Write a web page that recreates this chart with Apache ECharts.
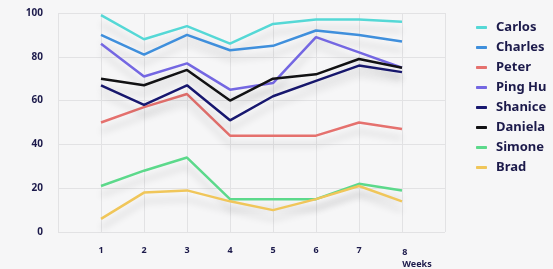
<!DOCTYPE html>
<html>
<head>
<meta charset="utf-8">
<script src="https://cdn.jsdelivr.net/npm/echarts@6/dist/echarts.min.js"></script>
<style>
  html, body { margin: 0; padding: 0; background: #f6f6f7; }
  #chart { width: 553px; height: 269px; }
</style>
</head>
<body>
<div id="chart"></div>
<script>
const weeks = [1, 2, 3, 4, 5, 6, 7, 8];
const yTicks = [0, 20, 40, 60, 80, 100];

const carlos  = [99, 88, 94, 86, 95, 97, 97, 96];
const charles = [90, 81, 90, 83, 85, 92, 90, 87];
const peter   = [50, 57, 63, 44, 44, 44, 50, 47];
const pingHu  = [86, 71, 77, 65, 68, 89, 82, 75];
const shanice = [67, 58, 67, 51, 62, 69, 76, 73];
const daniela = [70, 67, 74, 60, 70, 72, 79, 75];
const simone  = [21, 28, 34, 15, 15, 15, 22, 19];
const brad    = [6, 18, 19, 14, 10, 15, 21, 14];

const people = [
    { name: 'Carlos',  values: carlos,  color: '#55d8d6' },
    { name: 'Charles', values: charles, color: '#3f8fdc' },
    { name: 'Peter',   values: peter,   color: '#e5716e' },
    { name: 'Ping Hu', values: pingHu,  color: '#7467e2' },
    { name: 'Shanice', values: shanice, color: '#181870' },
    { name: 'Daniela', values: daniela, color: '#121214' },
    { name: 'Simone',  values: simone,  color: '#5cd98b' },
    { name: 'Brad',    values: brad,    color: '#f0c65a' }
];

const navy = '#1c1a4b';

const chart = echarts.init(document.getElementById('chart'));
const option = {
    backgroundColor: '#f6f6f7',
    animation: false,
    grid: {
        left: 58,
        right: 108,
        top: 13,
        bottom: 37
    },
    legend: {
        orient: 'vertical',
        left: 471,
        top: 16,
        icon: 'roundRect',
        itemWidth: 11,
        itemHeight: 3,
        itemGap: 7,
        textStyle: {
            color: navy,
            fontSize: 13,
            fontWeight: 'bold',
            fontFamily: 'Noto Sans',
            padding: [0, 0, 0, 4]
        },
        data: people.map(p => p.name)
    },
    xAxis: {
        type: 'value',
        min: 0,
        max: weeks.length + 1,
        interval: 1,
        axisLine: { show: false },
        axisTick: { show: false },
        splitLine: { lineStyle: { color: '#e2e2e4', width: 1 } },
        axisLabel: {
            margin: 14,
            color: navy,
            fontSize: 9,
            fontWeight: 'bold',
            fontFamily: 'Noto Sans',
            formatter: v => {
                // last week carries the axis name underneath
                if (v === weeks[weeks.length - 1]) return '{n|' + v + '}\n{w|Weeks}';
                return weeks.indexOf(v) >= 0 ? String(v) : '';
            },
            rich: {
                n: { color: navy, fontSize: 9, fontWeight: 'bold', fontFamily: 'Noto Sans', align: 'left', padding: [0, 0, 0, 30], lineHeight: 12 },
                w: { color: navy, fontSize: 9, fontWeight: 'bold', fontFamily: 'Noto Sans', align: 'left', padding: [0, 0, 0, 30], lineHeight: 12 }
            }
        }
    },
    yAxis: {
        type: 'value',
        min: yTicks[0],
        max: yTicks[yTicks.length - 1],
        interval: 20,
        axisLine: { show: false },
        axisTick: { show: false },
        splitLine: { lineStyle: { color: '#e2e2e4', width: 1 } },
        axisLabel: {
            margin: 15,
            color: navy,
            fontSize: 10,
            fontWeight: 'bold',
            fontFamily: 'Noto Sans'
        }
    },
    series: people.map(p => ({
        name: p.name,
        type: 'line',
        data: p.values.map((v, i) => [weeks[i], v]),
        symbol: 'none',
        color: p.color,
        lineStyle: {
            width: 2.5,
            color: p.color,
            shadowColor: 'rgba(0,0,0,0.15)',
            shadowBlur: 7,
            shadowOffsetY: 9
        }
    }))
};
chart.setOption(option);
</script>
</body>
</html>
